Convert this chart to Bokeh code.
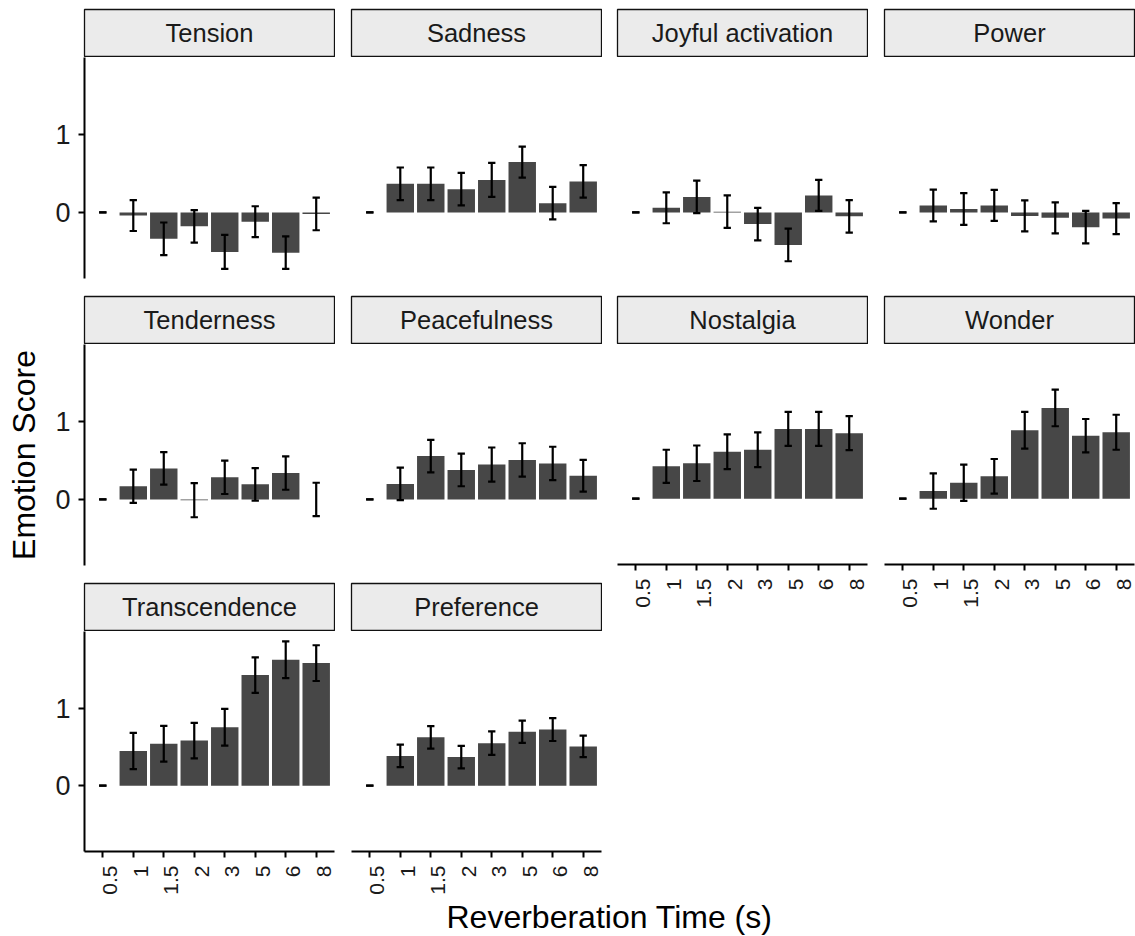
import math
from bokeh.plotting import figure
from bokeh.models import Range1d, FixedTicker, LinearAxis, Label, ColumnDataSource
from bokeh.layouts import column, row
from bokeh.embed import file_html
from bokeh.resources import INLINE

# ---------------- data ----------------
categories = ["0.5", "1", "1.5", "2", "3", "5", "6", "8"]
emotions = ["Tension", "Sadness", "Joyful activation", "Power", "Tenderness",
            "Peacefulness", "Nostalgia", "Wonder", "Transcendence", "Preference"]

tension_mean = [0, -0.04, -0.34, -0.18, -0.51, -0.12, -0.52, -0.02]
tension_err = [0, 0.20, 0.21, 0.21, 0.22, 0.20, 0.21, 0.21]
sadness_mean = [0, 0.37, 0.37, 0.30, 0.42, 0.65, 0.12, 0.40]
sadness_err = [0, 0.21, 0.21, 0.21, 0.22, 0.20, 0.21, 0.21]
joyful_mean = [0, 0.06, 0.20, 0.01, -0.15, -0.42, 0.22, -0.05]
joyful_err = [0, 0.20, 0.21, 0.21, 0.21, 0.21, 0.20, 0.21]
power_mean = [0, 0.09, 0.045, 0.09, -0.045, -0.07, -0.19, -0.08]
power_err = [0, 0.205, 0.205, 0.20, 0.20, 0.20, 0.21, 0.20]
tenderness_mean = [0, 0.17, 0.40, -0.01, 0.285, 0.195, 0.34, 0.0]
tenderness_err = [0, 0.215, 0.21, 0.22, 0.215, 0.21, 0.215, 0.215]
peacefulness_mean = [0, 0.20, 0.56, 0.38, 0.45, 0.51, 0.465, 0.305]
peacefulness_err = [0, 0.21, 0.21, 0.21, 0.22, 0.215, 0.215, 0.205]
nostalgia_mean = [0, 0.42, 0.46, 0.61, 0.635, 0.905, 0.905, 0.85]
nostalgia_err = [0, 0.215, 0.23, 0.225, 0.225, 0.22, 0.22, 0.22]
wonder_mean = [0, 0.10, 0.207, 0.29, 0.887, 1.178, 0.817, 0.862]
wonder_err = [0, 0.23, 0.234, 0.225, 0.238, 0.238, 0.217, 0.227]
transcendence_mean = [0, 0.45, 0.545, 0.585, 0.758, 1.435, 1.633, 1.59]
transcendence_err = [0, 0.236, 0.232, 0.23, 0.238, 0.23, 0.238, 0.232]
preference_mean = [0, 0.386, 0.627, 0.372, 0.552, 0.70, 0.728, 0.51]
preference_err = [0, 0.146, 0.146, 0.146, 0.152, 0.144, 0.148, 0.14]

y_ticks = [0, 1]
y_title = "Emotion Score"
x_title = "Reverberation Time (s)"

series = {
    "Tension": (tension_mean, tension_err),
    "Sadness": (sadness_mean, sadness_err),
    "Joyful activation": (joyful_mean, joyful_err),
    "Power": (power_mean, power_err),
    "Tenderness": (tenderness_mean, tenderness_err),
    "Peacefulness": (peacefulness_mean, peacefulness_err),
    "Nostalgia": (nostalgia_mean, nostalgia_err),
    "Wonder": (wonder_mean, wonder_err),
    "Transcendence": (transcendence_mean, transcendence_err),
    "Preference": (preference_mean, preference_err),
}

# ---------------- style ----------------
FONT = "Liberation Sans"
BAR = "#474747"
STRIP_FILL = "#EBEBEB"
TXT = "#1A1A1A"
X_POS = list(range(1, len(categories) + 1))
PANEL_H = 221
GAP_B = 17
AXIS_B = 45
WHISK = 0.12

# column geometry: (left border, frame width, right border)
COLS = [(84, 250, 1), (16, 250, 1), (15, 250, 1), (16, 250, 1)]


def strip_fig(name, geom, top=1):
    l, fw, r = geom
    p = figure(width=l + fw + r, height=top + 47 + 1, x_range=Range1d(0, 1), y_range=Range1d(0, 1),
               output_backend="svg", toolbar_location=None,
               x_axis_location=None, y_axis_location=None,
               min_border_left=l, min_border_right=r, min_border_top=top, min_border_bottom=1)
    p.grid.visible = False
    p.background_fill_color = STRIP_FILL
    p.border_fill_color = "white"
    p.outline_line_color = "#111111"
    p.outline_line_width = 1.3
    p.add_layout(Label(x=0.5, y=0.5, text=name, text_align="center", text_baseline="middle",
                       text_font=FONT, text_font_size="25.5px", text_color=TXT))
    return p


def panel_fig(name, geom, yaxis=False, xaxis=False, ylabel=None):
    l, fw, r = geom
    mean, err = series[name]
    bottom = AXIS_B if xaxis else GAP_B
    p = figure(width=l + fw + r, height=PANEL_H + bottom,
               x_range=Range1d(0.4, 8.6), y_range=Range1d(-0.853, 2.0),
               output_backend="svg", toolbar_location=None,
               x_axis_location=None, y_axis_location=None,
               min_border_left=l, min_border_right=r, min_border_top=0, min_border_bottom=bottom)
    p.grid.visible = False
    p.outline_line_color = None
    p.background_fill_color = "white"
    p.border_fill_color = "white"

    lo = [m - e for m, e in zip(mean, err)]
    hi = [m + e for m, e in zip(mean, err)]
    src = ColumnDataSource(dict(
        x=X_POS, top=mean, lo=lo, hi=hi,
        x0=[x - WHISK for x in X_POS], x1=[x + WHISK for x in X_POS]))
    p.vbar(x="x", top="top", bottom=0, width=0.9, source=src,
           fill_color=BAR, line_color=None)
    p.segment(x0="x", y0="lo", x1="x", y1="hi", source=src, line_color="black", line_width=2.2)
    p.segment(x0="x0", y0="lo", x1="x1", y1="lo", source=src, line_color="black", line_width=2.2)
    p.segment(x0="x0", y0="hi", x1="x1", y1="hi", source=src, line_color="black", line_width=2.2)

    if yaxis:
        ya = LinearAxis(ticker=FixedTicker(ticks=y_ticks),
                        axis_line_width=2, axis_line_color="black",
                        major_tick_line_width=2, major_tick_line_color="black",
                        major_tick_out=6, major_tick_in=0,
                        minor_tick_out=0, minor_tick_in=0,
                        major_label_standoff=8,
                        major_label_text_font=FONT, major_label_text_font_size="27px",
                        major_label_text_color=TXT)
        if ylabel:
            ya.axis_label = ylabel
            ya.axis_label_text_font = FONT
            ya.axis_label_text_font_size = "32px"
            ya.axis_label_text_font_style = "normal"
            ya.axis_label_text_color = "black"
            ya.axis_label_standoff = 10
        p.add_layout(ya, "left")

    if xaxis:
        # a blank leading line nudges each rotated label just right of its tick
        xa = LinearAxis(ticker=FixedTicker(ticks=X_POS),
                        major_label_overrides={x: "\u00a0\n" + c for x, c in zip(X_POS, categories)},
                        axis_line_width=2.2, axis_line_color="black",
                        major_tick_line_width=2, major_tick_line_color="black",
                        major_tick_out=6, major_tick_in=0,
                        minor_tick_out=0, minor_tick_in=0,
                        major_label_orientation=math.pi / 2,
                        major_label_standoff=8,
                        major_label_text_font=FONT, major_label_text_font_size="21px",
                        major_label_text_line_height=0.6,
                        major_label_text_color=TXT)
        p.add_layout(xa, "below")
    return p


col1 = column(
    strip_fig("Tension", COLS[0], top=9), panel_fig("Tension", COLS[0], yaxis=True),
    strip_fig("Tenderness", COLS[0]), panel_fig("Tenderness", COLS[0], yaxis=True, ylabel=y_title),
    strip_fig("Transcendence", COLS[0]), panel_fig("Transcendence", COLS[0], yaxis=True, xaxis=True),
    spacing=0)
col2 = column(
    strip_fig("Sadness", COLS[1], top=9), panel_fig("Sadness", COLS[1]),
    strip_fig("Peacefulness", COLS[1]), panel_fig("Peacefulness", COLS[1]),
    strip_fig("Preference", COLS[1]), panel_fig("Preference", COLS[1], xaxis=True),
    spacing=0)
col3 = column(
    strip_fig("Joyful activation", COLS[2], top=9), panel_fig("Joyful activation", COLS[2]),
    strip_fig("Nostalgia", COLS[2]), panel_fig("Nostalgia", COLS[2], xaxis=True),
    spacing=0)
col4 = column(
    strip_fig("Power", COLS[3], top=9), panel_fig("Power", COLS[3]),
    strip_fig("Wonder", COLS[3]), panel_fig("Wonder", COLS[3], xaxis=True),
    spacing=0)

total_w = sum(l + fw + r for l, fw, r in COLS)
TITLE_H = 39
tf = figure(width=total_w, height=TITLE_H, x_range=Range1d(0, 1), y_range=Range1d(0, TITLE_H),
            output_backend="svg", toolbar_location=None,
            x_axis_location=None, y_axis_location=None,
            min_border_left=84, min_border_right=1, min_border_top=0, min_border_bottom=0)
tf.grid.visible = False
tf.outline_line_color = None
tf.add_layout(Label(x=0.5, y=19.5, text=x_title, text_align="center", text_baseline="middle",
                    text_font=FONT, text_font_size="32px", text_color="black"))

layout = column(row(col1, col2, col3, col4, spacing=0), tf, spacing=0)

open("out.html", "w").write(file_html(layout, INLINE))
